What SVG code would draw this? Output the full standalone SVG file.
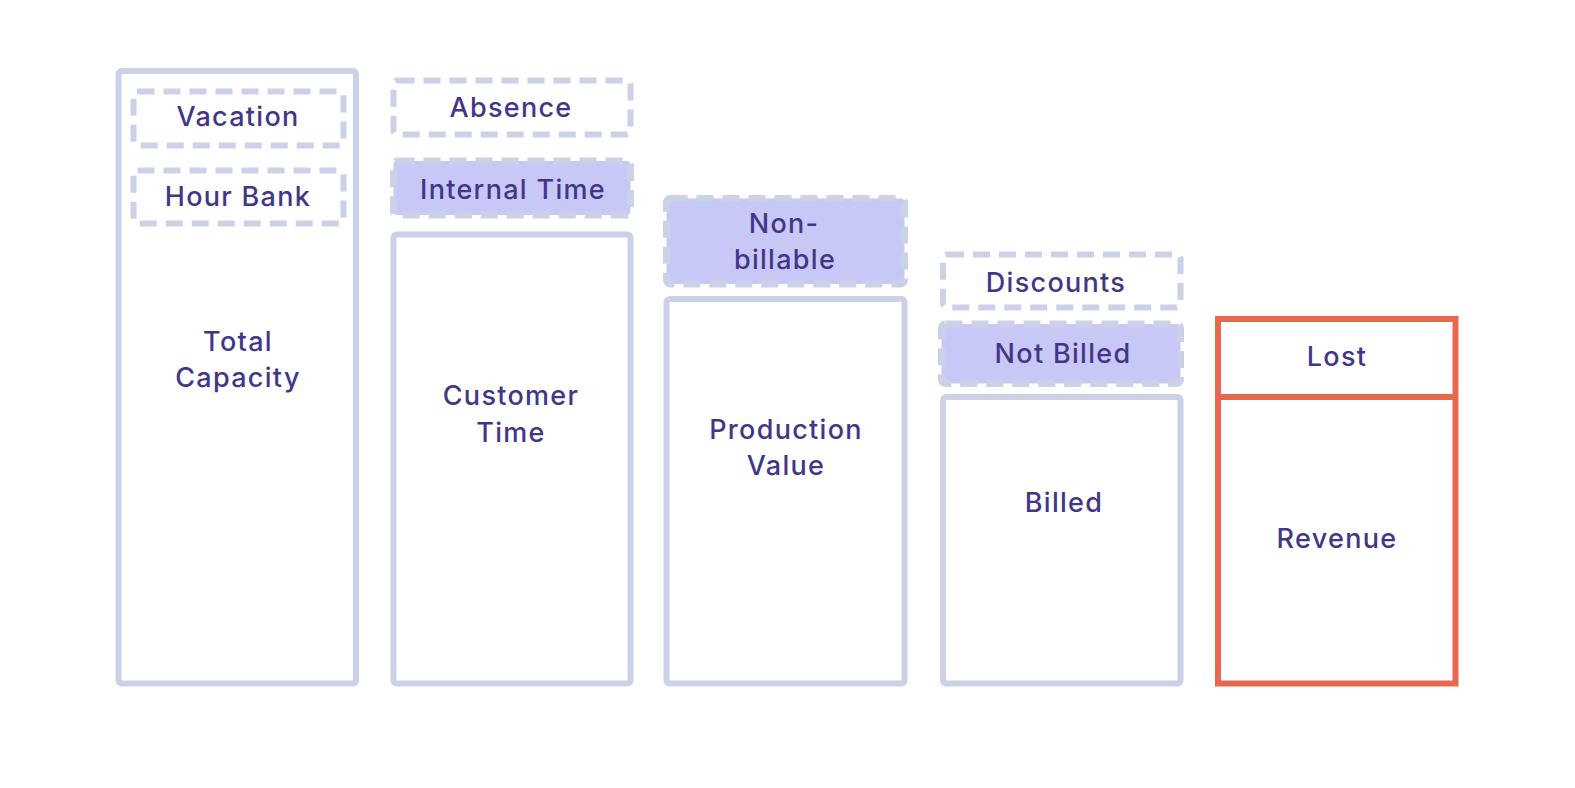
<svg xmlns="http://www.w3.org/2000/svg" width="1575" height="788" viewBox="0 0 1575 788">
<style>
.solid{fill:#ffffff;stroke:#cbd2e8;stroke-width:6}
.dash{fill:#ffffff;stroke:#cbd2e8;stroke-width:6;stroke-dasharray:17 9}
.dashf{fill:#c8c8f6;stroke:#cbd2e8;stroke-width:7;stroke-dasharray:17 9}
.red{fill:#ffffff;stroke:#e8674f;stroke-width:6}
text{font-family:Inter,"Liberation Sans",sans-serif;font-size:27px;font-weight:500;letter-spacing:1.3px;fill:#433689;text-anchor:middle}
</style>
<rect width="1575" height="788" fill="#ffffff"/>
<g id="total-capacity">
<rect class="solid" x="118.5" y="71" width="237.5" height="612.5" rx="3"/>
<text x="238" y="351">Total</text>
<text x="238" y="387">Capacity</text>
</g>
<g id="vacation">
<rect class="dash" x="133.5" y="91.5" width="210" height="54" rx="4"/>
<text x="238" y="126">Vacation</text>
</g>
<g id="hour-bank">
<rect class="dash" x="133.5" y="170.5" width="210" height="53" rx="4"/>
<text x="238" y="206">Hour Bank</text>
</g>
<g id="absence">
<rect class="dash" x="393.5" y="80.5" width="237" height="54" rx="4"/>
<text x="511" y="117">Absence</text>
</g>
<g id="internal-time">
<rect class="dashf" x="393.5" y="161" width="237" height="54" rx="4"/>
<text x="513" y="199">Internal Time</text>
</g>
<g id="customer-time">
<rect class="solid" x="393.5" y="234.5" width="237" height="449" rx="3"/>
<text x="511" y="405">Customer</text>
<text x="511" y="442">Time</text>
</g>
<g id="non-billable">
<rect class="dashf" x="666.5" y="198.5" width="238" height="85.5" rx="4"/>
<text x="784" y="233">Non-</text>
<text x="785" y="269">billable</text>
</g>
<g id="production-value">
<rect class="solid" x="666.5" y="299" width="238" height="384.5" rx="3"/>
<text x="786" y="439">Production</text>
<text x="786" y="475">Value</text>
</g>
<g id="discounts">
<rect class="dash" x="943" y="254.5" width="237.5" height="53" rx="4"/>
<text x="1056" y="292">Discounts</text>
</g>
<g id="not-billed">
<rect class="dashf" x="941.5" y="324" width="239" height="59.5" rx="4"/>
<text x="1063" y="363">Not Billed</text>
</g>
<g id="billed">
<rect class="solid" x="943" y="397" width="237.5" height="286.5" rx="3"/>
<text x="1064" y="512">Billed</text>
</g>
<g id="revenue">
<rect class="red" x="1218" y="319" width="237.5" height="364.5"/>
<line x1="1218" y1="397" x2="1455.5" y2="397" stroke="#e8674f" stroke-width="6"/>
<text x="1337" y="366">Lost</text>
<text x="1337" y="548">Revenue</text>
</g>
<g id="connectors"></g>
</svg>
